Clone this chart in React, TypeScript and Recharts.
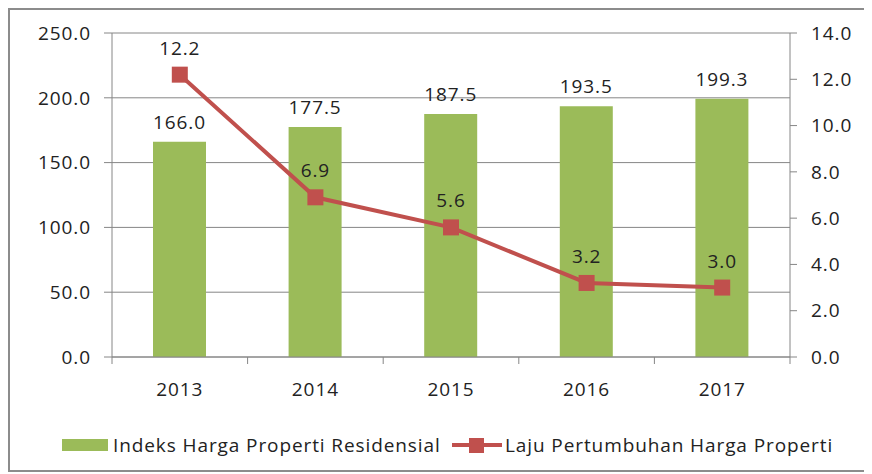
import { ComposedChart, Bar, Line, XAxis, YAxis, CartesianGrid, Legend, LabelList } from "recharts"

const years = ["2013", "2014", "2015", "2016", "2017"]
const indeksHarga = [166.0, 177.5, 187.5, 193.5, 199.3]
const lajuPertumbuhan = [12.2, 6.9, 5.6, 3.2, 3.0]
const leftTicks = [0, 50, 100, 150, 200, 250]
const rightTicks = [0, 2, 4, 6, 8, 10, 12, 14]

const BAR_NAME = "Indeks Harga Properti Residensial"
const LINE_NAME = "Laju Pertumbuhan Harga Properti"

const GREEN = "#9BBB59"
const RED = "#C0504D"
const AXIS = "#868686"
const TEXT = "#222"
const FONT = "'Open Sans', sans-serif"
const SPACING = 0.9

const W = 858
const H = 460
const PLOT_LEFT = 102
const PLOT_RIGHT = 780
const BAND = (PLOT_RIGHT - PLOT_LEFT) / years.length

const data = years.map((y, i) => ({ year: y, indeks: indeksHarga[i], laju: lajuPertumbuhan[i] }))

const tickStyle = { fill: TEXT, fontSize: 19, fontFamily: FONT, letterSpacing: SPACING }

function XTick(props: any) {
  const { x, y, payload, index } = props
  const left = x - BAND / 2
  return (
    <g>
      <line x1={left} x2={left} y1={y - 7} y2={y} stroke={AXIS} />
      {index === years.length - 1 && <line x1={x + BAND / 2} x2={x + BAND / 2} y1={y - 7} y2={y} stroke={AXIS} />}
      <text x={x} y={y + 32} textAnchor="middle" fill={TEXT} fontSize={19} fontFamily={FONT} letterSpacing={SPACING}>
        {payload.value}
      </text>
    </g>
  )
}

function SquareDot(props: any) {
  const { cx, cy } = props
  if (cx == null || cy == null) return null
  return <rect x={cx - 8} y={cy - 8} width={16} height={16} fill={RED} />
}

function LegendBox() {
  return (
    <div style={{ height: 30, position: "relative", fontFamily: FONT, fontSize: 19, color: TEXT, letterSpacing: SPACING }}>
      <div style={{ position: "absolute", left: 52, top: 9, width: 46, height: 12, background: GREEN }} />
      <div style={{ position: "absolute", left: 103, top: 0, lineHeight: "30px", whiteSpace: "nowrap" }}>{BAR_NAME}</div>
      <div style={{ position: "absolute", left: 442, top: 13, width: 50, height: 4, background: RED }} />
      <div style={{ position: "absolute", left: 459, top: 8, width: 15, height: 15, background: RED }} />
      <div style={{ position: "absolute", left: 495, top: 0, lineHeight: "30px", whiteSpace: "nowrap" }}>{LINE_NAME}</div>
    </div>
  )
}

export default function App() {
  return (
    <div style={{ width: W, height: H, border: "2px solid #8c8c8c", background: "#fff" }}>
      <ComposedChart width={W} height={H} data={data} margin={{ top: 23, right: 0, left: 0, bottom: 10 }}>
        <CartesianGrid yAxisId="left" vertical={false} stroke={AXIS} />
        <XAxis
          dataKey="year"
          height={73}
          tickLine={false}
          tickSize={7}
          tickMargin={0}
          tick={<XTick />}
          axisLine={{ stroke: AXIS }}
          interval={0}
        />
        <YAxis
          yAxisId="left"
          width={PLOT_LEFT}
          domain={[0, 250]}
          ticks={leftTicks}
          tickFormatter={(v: number) => v.toFixed(1)}
          tickSize={8}
          tickMargin={13}
          axisLine={{ stroke: AXIS }}
          tickLine={{ stroke: AXIS }}
          tick={tickStyle}
        />
        <YAxis
          yAxisId="right"
          orientation="right"
          width={W - PLOT_RIGHT}
          domain={[0, 14]}
          ticks={rightTicks}
          tickFormatter={(v: number) => v.toFixed(1)}
          tickSize={7}
          tickMargin={14}
          axisLine={{ stroke: AXIS }}
          tickLine={{ stroke: AXIS }}
          tick={tickStyle}
        />
        <Legend verticalAlign="bottom" content={<LegendBox />} />
        <Bar yAxisId="left" dataKey="indeks" name={BAR_NAME} fill={GREEN} barSize={53} isAnimationActive={false}>
          <LabelList
            dataKey="indeks"
            position="top"
            offset={13}
            formatter={(v: any) => Number(v).toFixed(1)}
            fill={TEXT}
            fontSize={19}
            fontFamily={FONT}
            letterSpacing={SPACING}
          />
        </Bar>
        <Line
          yAxisId="right"
          dataKey="laju"
          name={LINE_NAME}
          stroke={RED}
          strokeWidth={4}
          dot={<SquareDot />}
          activeDot={false}
          isAnimationActive={false}
        >
          <LabelList
            dataKey="laju"
            position="top"
            offset={20}
            formatter={(v: any) => Number(v).toFixed(1)}
            fill={TEXT}
            fontSize={19}
            fontFamily={FONT}
            letterSpacing={SPACING}
          />
        </Line>
      </ComposedChart>
    </div>
  )
}
